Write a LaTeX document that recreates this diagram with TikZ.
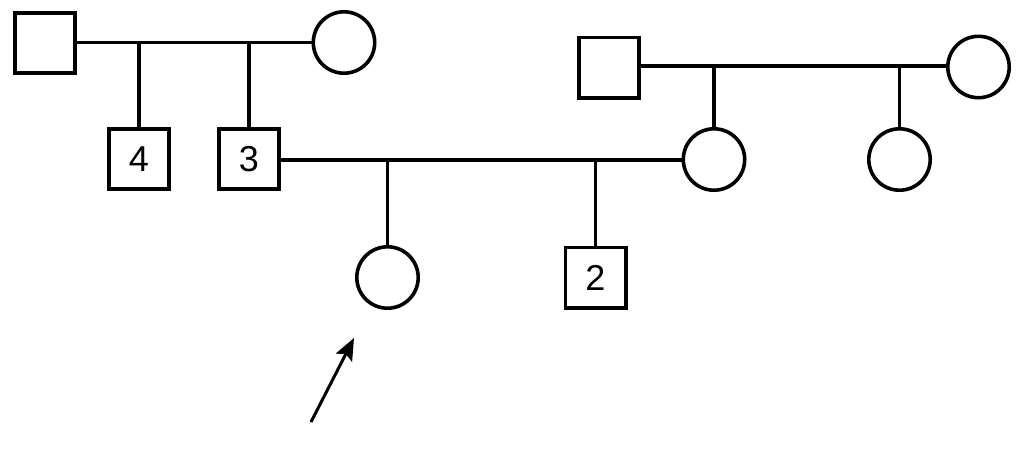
\documentclass[tikz,border=0pt]{standalone}
\usepackage{fontspec}
\setmainfont{Liberation Sans}
\usetikzlibrary{arrows.meta}
\begin{document}
\begin{tikzpicture}[x=1pt,y=-1pt,line width=3.6pt,
  male/.style={draw,rectangle,minimum size=60.4pt,inner sep=0pt,font=\fontsize{36}{40}\selectfont},
  female/.style={draw,circle,minimum size=61.4pt,inner sep=0pt},
  link/.style={line width=3.6pt}]
\useasboundingbox (0,0) rectangle (1035,475);
\node[male] (gf) at (45,43) {};
\node[female] (gm) at (344,42.5) {};
\node[male] (s4) at (139,159) {4};
\node[male] (s3) at (249,159) {3};
\node[male] (rgf) at (609,67.5) {};
\node[female] (rgm) at (978.5,67) {};
\node[female] (mo) at (714,159.5) {};
\node[female] (au) at (899.5,159.5) {};
\node[female] (pb) at (387.5,277.5) {};
\node[male] (s2) at (595.5,277.5) {2};
\coordinate (m1a) at (139,42);
\coordinate (m1b) at (249,42);
\coordinate (m2a) at (714,66);
\coordinate (m2b) at (899.5,66);
\coordinate (m3a) at (387.5,160);
\coordinate (m3b) at (595.5,160);
\coordinate (tail) at (311,422);
\coordinate (tip) at (354,338);
\draw[link] (gf.east |- gm.west) -- (gm.west);
\draw[link] (m1a) -- (s4.north);
\draw[link] (m1b) -- (s3.north);
\draw[link] (rgf.east |- m2a) -- (rgm.west |- m2a);
\draw[link] (m2a) -- (mo.north);
\draw[link] (m2b) -- (au.north);
\draw[link] (s3.east |- m3a) -- (mo.west |- m3a);
\draw[link] (m3a) -- (pb.north);
\draw[link] (m3b) -- (s2.north);
\draw[line width=3pt,-{Stealth[length=22pt,width=18pt,inset=4pt]}] (tail) -- (tip);
\end{tikzpicture}
\end{document}
